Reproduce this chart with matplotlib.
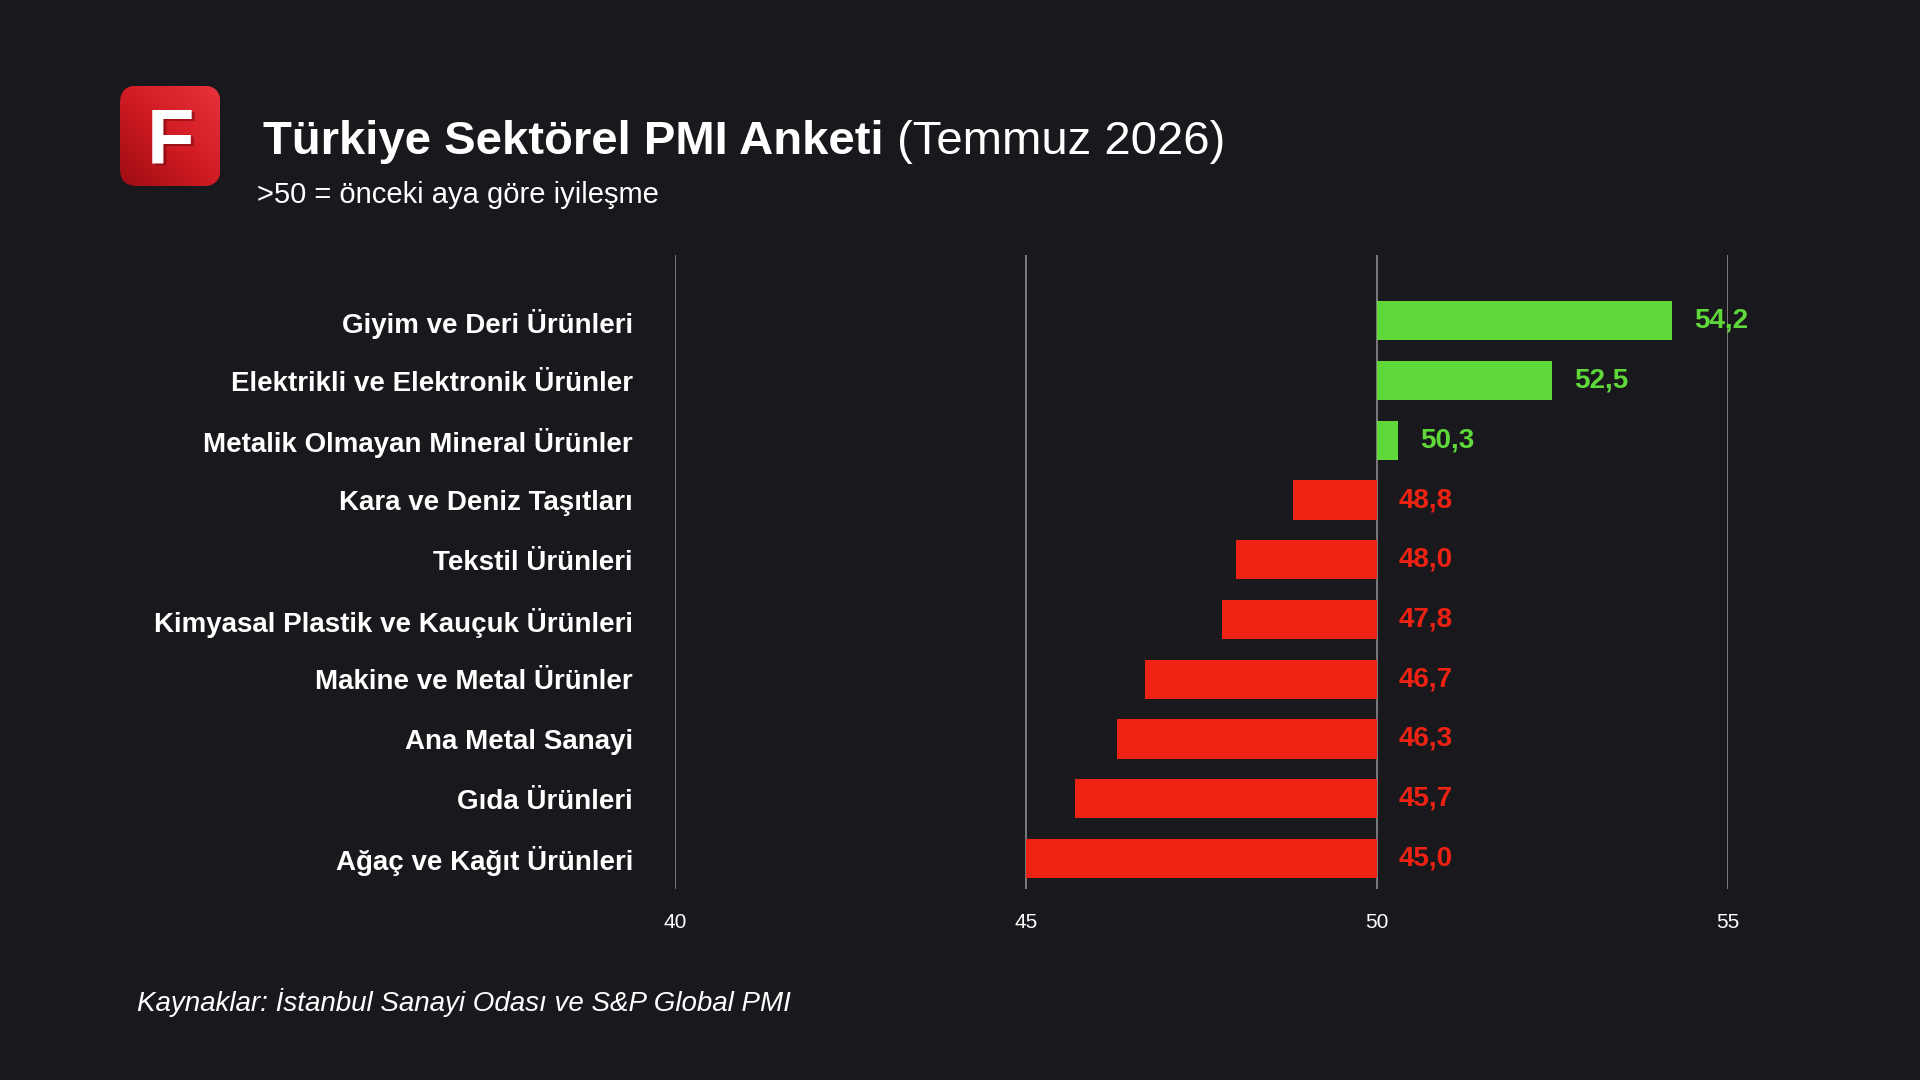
import numpy as np
import matplotlib
matplotlib.use("Agg")
import matplotlib.pyplot as plt
from matplotlib.patches import FancyBboxPatch
from matplotlib.colors import LinearSegmentedColormap

# Veriler
sektorler = [
    "Giyim ve Deri Ürünleri",
    "Elektrikli ve Elektronik Ürünler",
    "Metalik Olmayan Mineral Ürünler",
    "Kara ve Deniz Taşıtları",
    "Tekstil Ürünleri",
    "Kimyasal Plastik ve Kauçuk Ürünleri",
    "Makine ve Metal Ürünler",
    "Ana Metal Sanayi",
    "Gıda Ürünleri",
    "Ağaç ve Kağıt Ürünleri",
]
degerler = [54.2, 52.5, 50.3, 48.8, 48.0, 47.8, 46.7, 46.3, 45.7, 45.0]
esik = 50
x_ticks = [40, 45, 50, 55]

BG = "#19181d"
YESIL = "#5fd93a"
KIRMIZI = "#ee2212"
FONT = ["Liberation Sans", "DejaVu Sans"]

plt.rcParams["font.family"] = FONT

fig = plt.figure(figsize=(19.2, 10.8), dpi=100, facecolor=BG)

# Ana grafik
ax = fig.add_axes([0.3514, 0.1769, 0.5485, 0.5873])
ax.set_facecolor(BG)
y = np.arange(len(sektorler))
renkler = [YESIL if v >= esik else KIRMIZI for v in degerler]
ax.barh(y, [v - esik for v in degerler], left=esik, height=0.655,
        color=renkler, zorder=3)

for yi, v, c in zip(y, degerler, renkler):
    ax.annotate(f"{v:.1f}".replace(".", ","), xy=(max(v, esik), yi),
                xytext=(16, 0), textcoords="offset points",
                ha="left", va="center", color=c, fontsize=20,
                fontweight="bold", zorder=4)

ax.set_xlim(40, 55)
ax.set_ylim(9.51, -1.107)
ax.set_xticks(x_ticks)
ax.set_xticklabels([str(t) for t in x_ticks], fontsize=15, color="white")
ax.set_yticks(y)
ax.set_yticklabels(sektorler, fontsize=20, fontweight="bold", color="white")
ax.tick_params(axis="x", length=0, pad=17)
ax.tick_params(axis="y", length=0, pad=30)
ax.grid(axis="x", color="#8a8a8e", linewidth=1.2, zorder=0)
for s in ax.spines.values():
    s.set_visible(False)

# Logo
lax = fig.add_axes([0.0625, 0.8277, 0.0523, 0.093])
lax.set_xlim(0, 1)
lax.set_ylim(0, 1)
lax.axis("off")
gx, gy = np.meshgrid(np.linspace(0, 1, 200), np.linspace(0, 1, 200))
grad = (gx + (1 - gy)) / 2
cmap = LinearSegmentedColormap.from_list("logo", ["#9e0d13", "#d21c24", "#e8333d"])
img = lax.imshow(grad, cmap=cmap, extent=(0, 1, 0, 1), origin="upper",
                 aspect="auto")
kutu = FancyBboxPatch((0, 0), 1, 1, boxstyle="round,pad=0,rounding_size=0.17",
                      transform=lax.transData, facecolor="none",
                      edgecolor="none")
lax.add_patch(kutu)
img.set_clip_path(kutu)
lax.text(0.53, 0.20, "F", ha="center", va="baseline", fontsize=56,
         fontweight="bold", color="#6a080c", alpha=0.5)
lax.text(0.5, 0.225, "F", ha="center", va="baseline", fontsize=56,
         fontweight="bold", color="white")

# Başlıklar
t1 = fig.text(0.137, 0.857, "Türkiye Sektörel PMI Anketi", fontsize=34,
              fontweight="bold", color="white", va="baseline", ha="left")
ax.annotate(" (Temmuz 2026)", xy=(1, 0), xycoords=t1, fontsize=34,
            color="white", va="bottom", ha="left", annotation_clip=False)
fig.text(0.134, 0.8123, ">50 = önceki aya göre iyileşme", fontsize=21,
         color="white", va="baseline", ha="left")

fig.text(0.0712, 0.064, "Kaynaklar: İstanbul Sanayi Odası ve S&P Global PMI",
         fontsize=20, style="italic", color="white", va="baseline", ha="left")

fig.savefig("out.png", dpi=100, facecolor=BG)
